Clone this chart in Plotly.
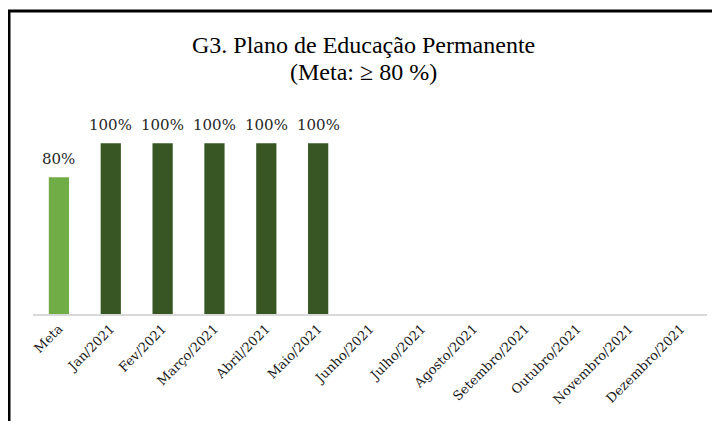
import plotly.graph_objects as go

# categories and values
meses = ['Meta', 'Jan/2021', 'Fev/2021', 'Março/2021', 'Abril/2021', 'Maio/2021',
         'Junho/2021', 'Julho/2021', 'Agosto/2021', 'Setembro/2021',
         'Outubro/2021', 'Novembro/2021', 'Dezembro/2021']
valores = [0.80, 1.00, 1.00, 1.00, 1.00, 1.00,
           None, None, None, None, None, None, None]
rotulos = ['80%', '100%', '100%', '100%', '100%', '100%',
           '', '', '', '', '', '', '']

cores = ['#70AD47'] + ['#375623'] * (len(meses) - 1)

serif = 'Liberation Serif, DejaVu Serif, serif'
serif_wide = 'DejaVu Serif, Liberation Serif, serif'

fig = go.Figure()
fig.add_trace(go.Bar(
    x=meses,
    y=valores,
    marker=dict(color=cores, line=dict(width=0)),
    hoverinfo='skip',
))

# value labels above the bars
for m, v, r in zip(meses, valores, rotulos):
    if v is None:
        continue
    fig.add_annotation(x=m, y=v, text=r, showarrow=False,
                       xanchor='center', yanchor='bottom', yshift=7,
                       font=dict(family=serif_wide, size=15, color='#262626'))

# the page body has an 8px margin, so the figure is 16px smaller than the window
W, H = 704, 413
ml, mr, mt, mb = 25, 5, 101, 107
pw = W - ml - mr
ph = H - mt - mb

def px_x(x):
    return (x - ml) / pw

def px_y(y):
    return (H - mb - y) / ph

# two-line title, placed line by line
fig.add_annotation(xref='paper', yref='paper', x=px_x(355), y=px_y(37),
                   text='G3. Plano de Educação Permanente', showarrow=False,
                   xanchor='center', yanchor='middle',
                   font=dict(family=serif, size=24, color='#000000'))
fig.add_annotation(xref='paper', yref='paper', x=px_x(355), y=px_y(64),
                   text='(Meta: ≥ 80 %)', showarrow=False,
                   xanchor='center', yanchor='middle',
                   font=dict(family=serif, size=24, color='#000000'))

fig.update_layout(
    width=W, height=H,
    margin=dict(l=ml, r=mr, t=mt, b=mb),
    paper_bgcolor='white',
    plot_bgcolor='white',
    showlegend=False,
    bargap=0.61,
    xaxis=dict(
        type='category',
        tickangle=-45,
        tickfont=dict(family=serif_wide, size=13, color='#1a1a1a'),
        showline=True, linecolor='#D9D9D9', linewidth=2,
        showgrid=False, ticks='', zeroline=False,
    ),
    yaxis=dict(
        range=[0, 1.2],
        visible=False,
        showgrid=False, zeroline=False,
    ),
    shapes=[
        # frame of the chart box
        dict(type='line', xref='paper', yref='paper',
             x0=px_x(1), x1=px_x(1), y0=px_y(2), y1=px_y(430),
             line=dict(color='black', width=3)),
        dict(type='line', xref='paper', yref='paper',
             x0=px_x(0), x1=px_x(720), y0=px_y(3), y1=px_y(3),
             line=dict(color='black', width=3)),
    ],
)

fig.write_html("out.html")
